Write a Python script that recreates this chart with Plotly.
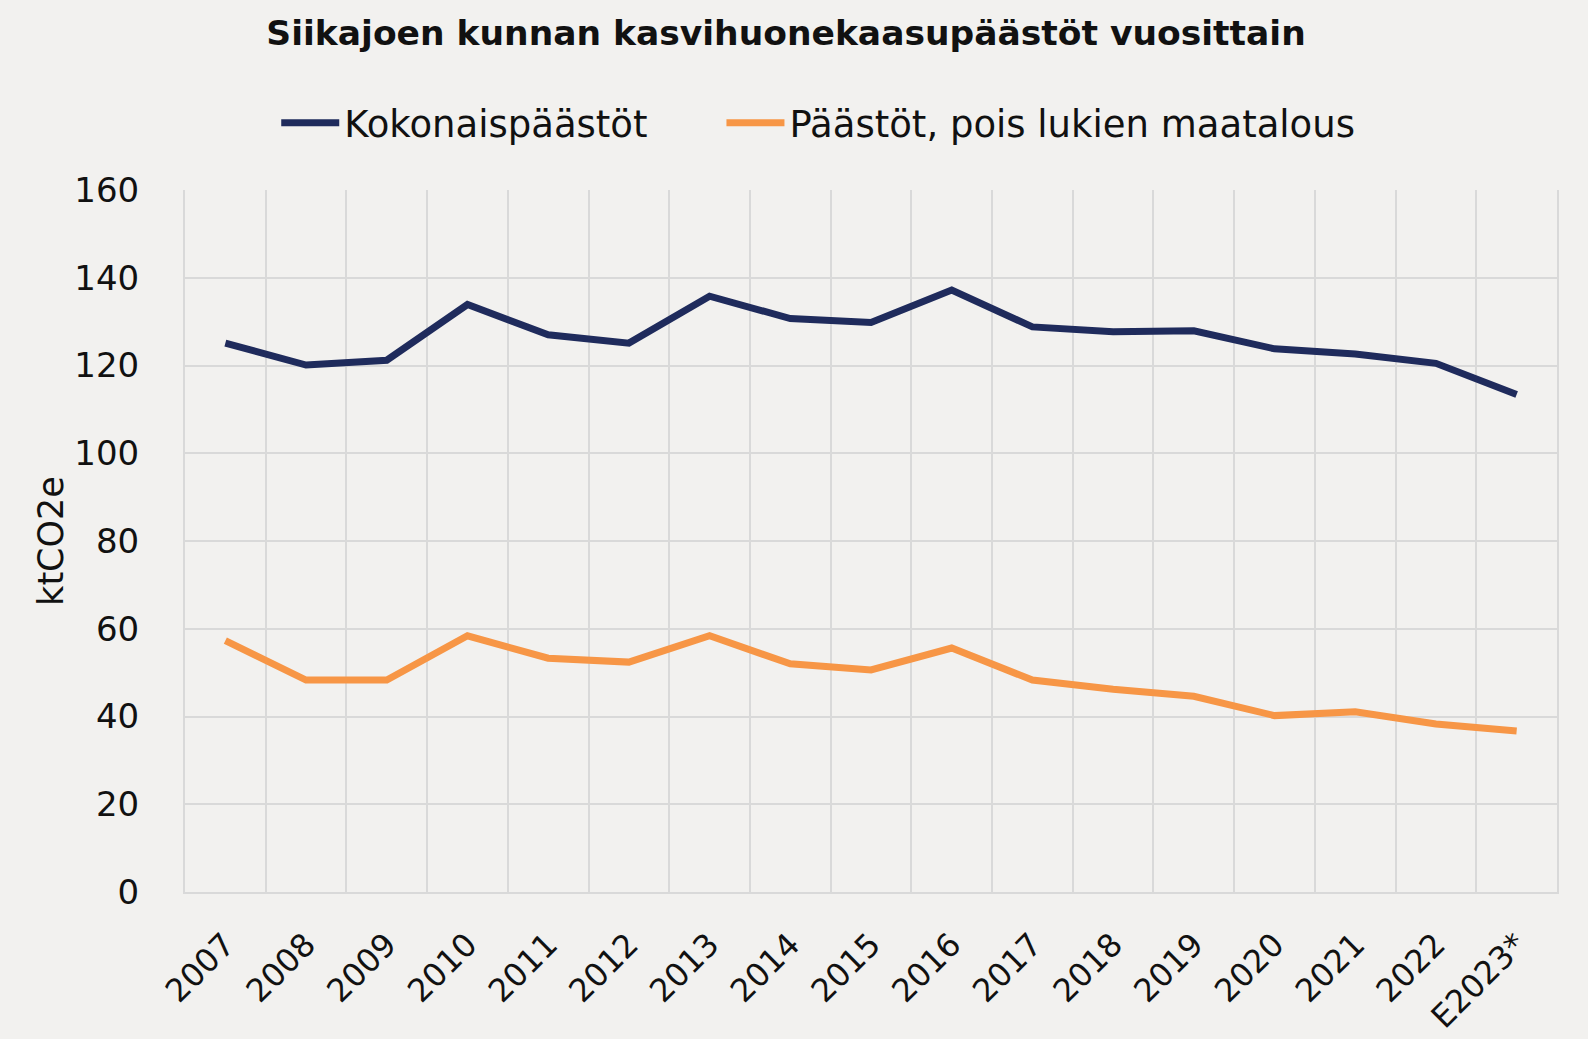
import plotly.graph_objects as go

years = ["2007", "2008", "2009", "2010", "2011", "2012", "2013", "2014", "2015",
         "2016", "2017", "2018", "2019", "2020", "2021", "2022", "E2023*"]
kokonais = [125.1, 120.1, 121.2, 133.9, 127.0, 125.1, 135.8, 130.7, 129.8,
            137.2, 128.8, 127.7, 127.9, 123.8, 122.6, 120.5, 113.4]
ilman_maatalous = [57.3, 48.3, 48.3, 58.4, 53.3, 52.4, 58.4, 52.0, 50.6,
                   55.6, 48.3, 46.2, 44.6, 40.2, 41.1, 38.3, 36.7]
y_ticks = [0, 20, 40, 60, 80, 100, 120, 140, 160]

FONT = "DejaVu Sans"
BG = "#F2F1EF"
GRID = "#D9D9D9"

fig = go.Figure()
fig.add_trace(go.Scatter(x=years, y=kokonais, mode="lines", name="Kokonaispäästöt",
                         legend="legend",
                         line=dict(color="#1F2B5C", width=7)))
fig.add_trace(go.Scatter(x=years, y=ilman_maatalous, mode="lines",
                         name="Päästöt, pois lukien maatalous", legend="legend2",
                         line=dict(color="#F79646", width=7)))

leg_common = dict(orientation="h", xanchor="left", y=1.095, yanchor="middle",
                  font=dict(family=FONT, size=37), bgcolor="rgba(0,0,0,0)",
                  itemwidth=58)

fig.update_layout(
    width=1588, height=1039,
    paper_bgcolor=BG, plot_bgcolor=BG,
    margin=dict(l=185, r=31, t=190, b=147),
    font=dict(family=FONT, color="#111111", size=32),
    title=dict(text="<b>Siikajoen kunnan kasvihuonekaasupäästöt vuosittain</b>",
               x=0.495, xanchor="center", y=0.968, yanchor="middle",
               font=dict(family=FONT, size=34.5, color="#111111")),
    legend=dict(x=0.0665, **leg_common),
    legend2=dict(x=0.391, **leg_common),
    showlegend=True,
)
fig.update_xaxes(
    type="category", tickangle=-45, tickson="boundaries",
    showgrid=True, gridcolor=GRID, gridwidth=2,
    showline=True, linecolor=GRID, linewidth=2,
    ticks="", ticklabelstandoff=19, automargin=False,
    tickfont=dict(family=FONT, size=32),
    range=[-0.5, len(years) - 0.5],
)
fig.update_yaxes(
    range=[0, 160], tickvals=y_ticks, showgrid=True, gridcolor=GRID, gridwidth=2,
    zeroline=False, showline=True, linecolor=GRID, linewidth=2, mirror=True,
    ticks="", ticklabelstandoff=37, automargin=False,
    tickfont=dict(family=FONT, size=34),
    title=dict(text="ktCO2e", font=dict(family=FONT, size=35), standoff=0),
)

fig.write_html(
    "out.html",
    config={"displayModeBar": False},
    post_script="document.body.style.margin='0';document.body.style.background='%s';" % BG,
)
